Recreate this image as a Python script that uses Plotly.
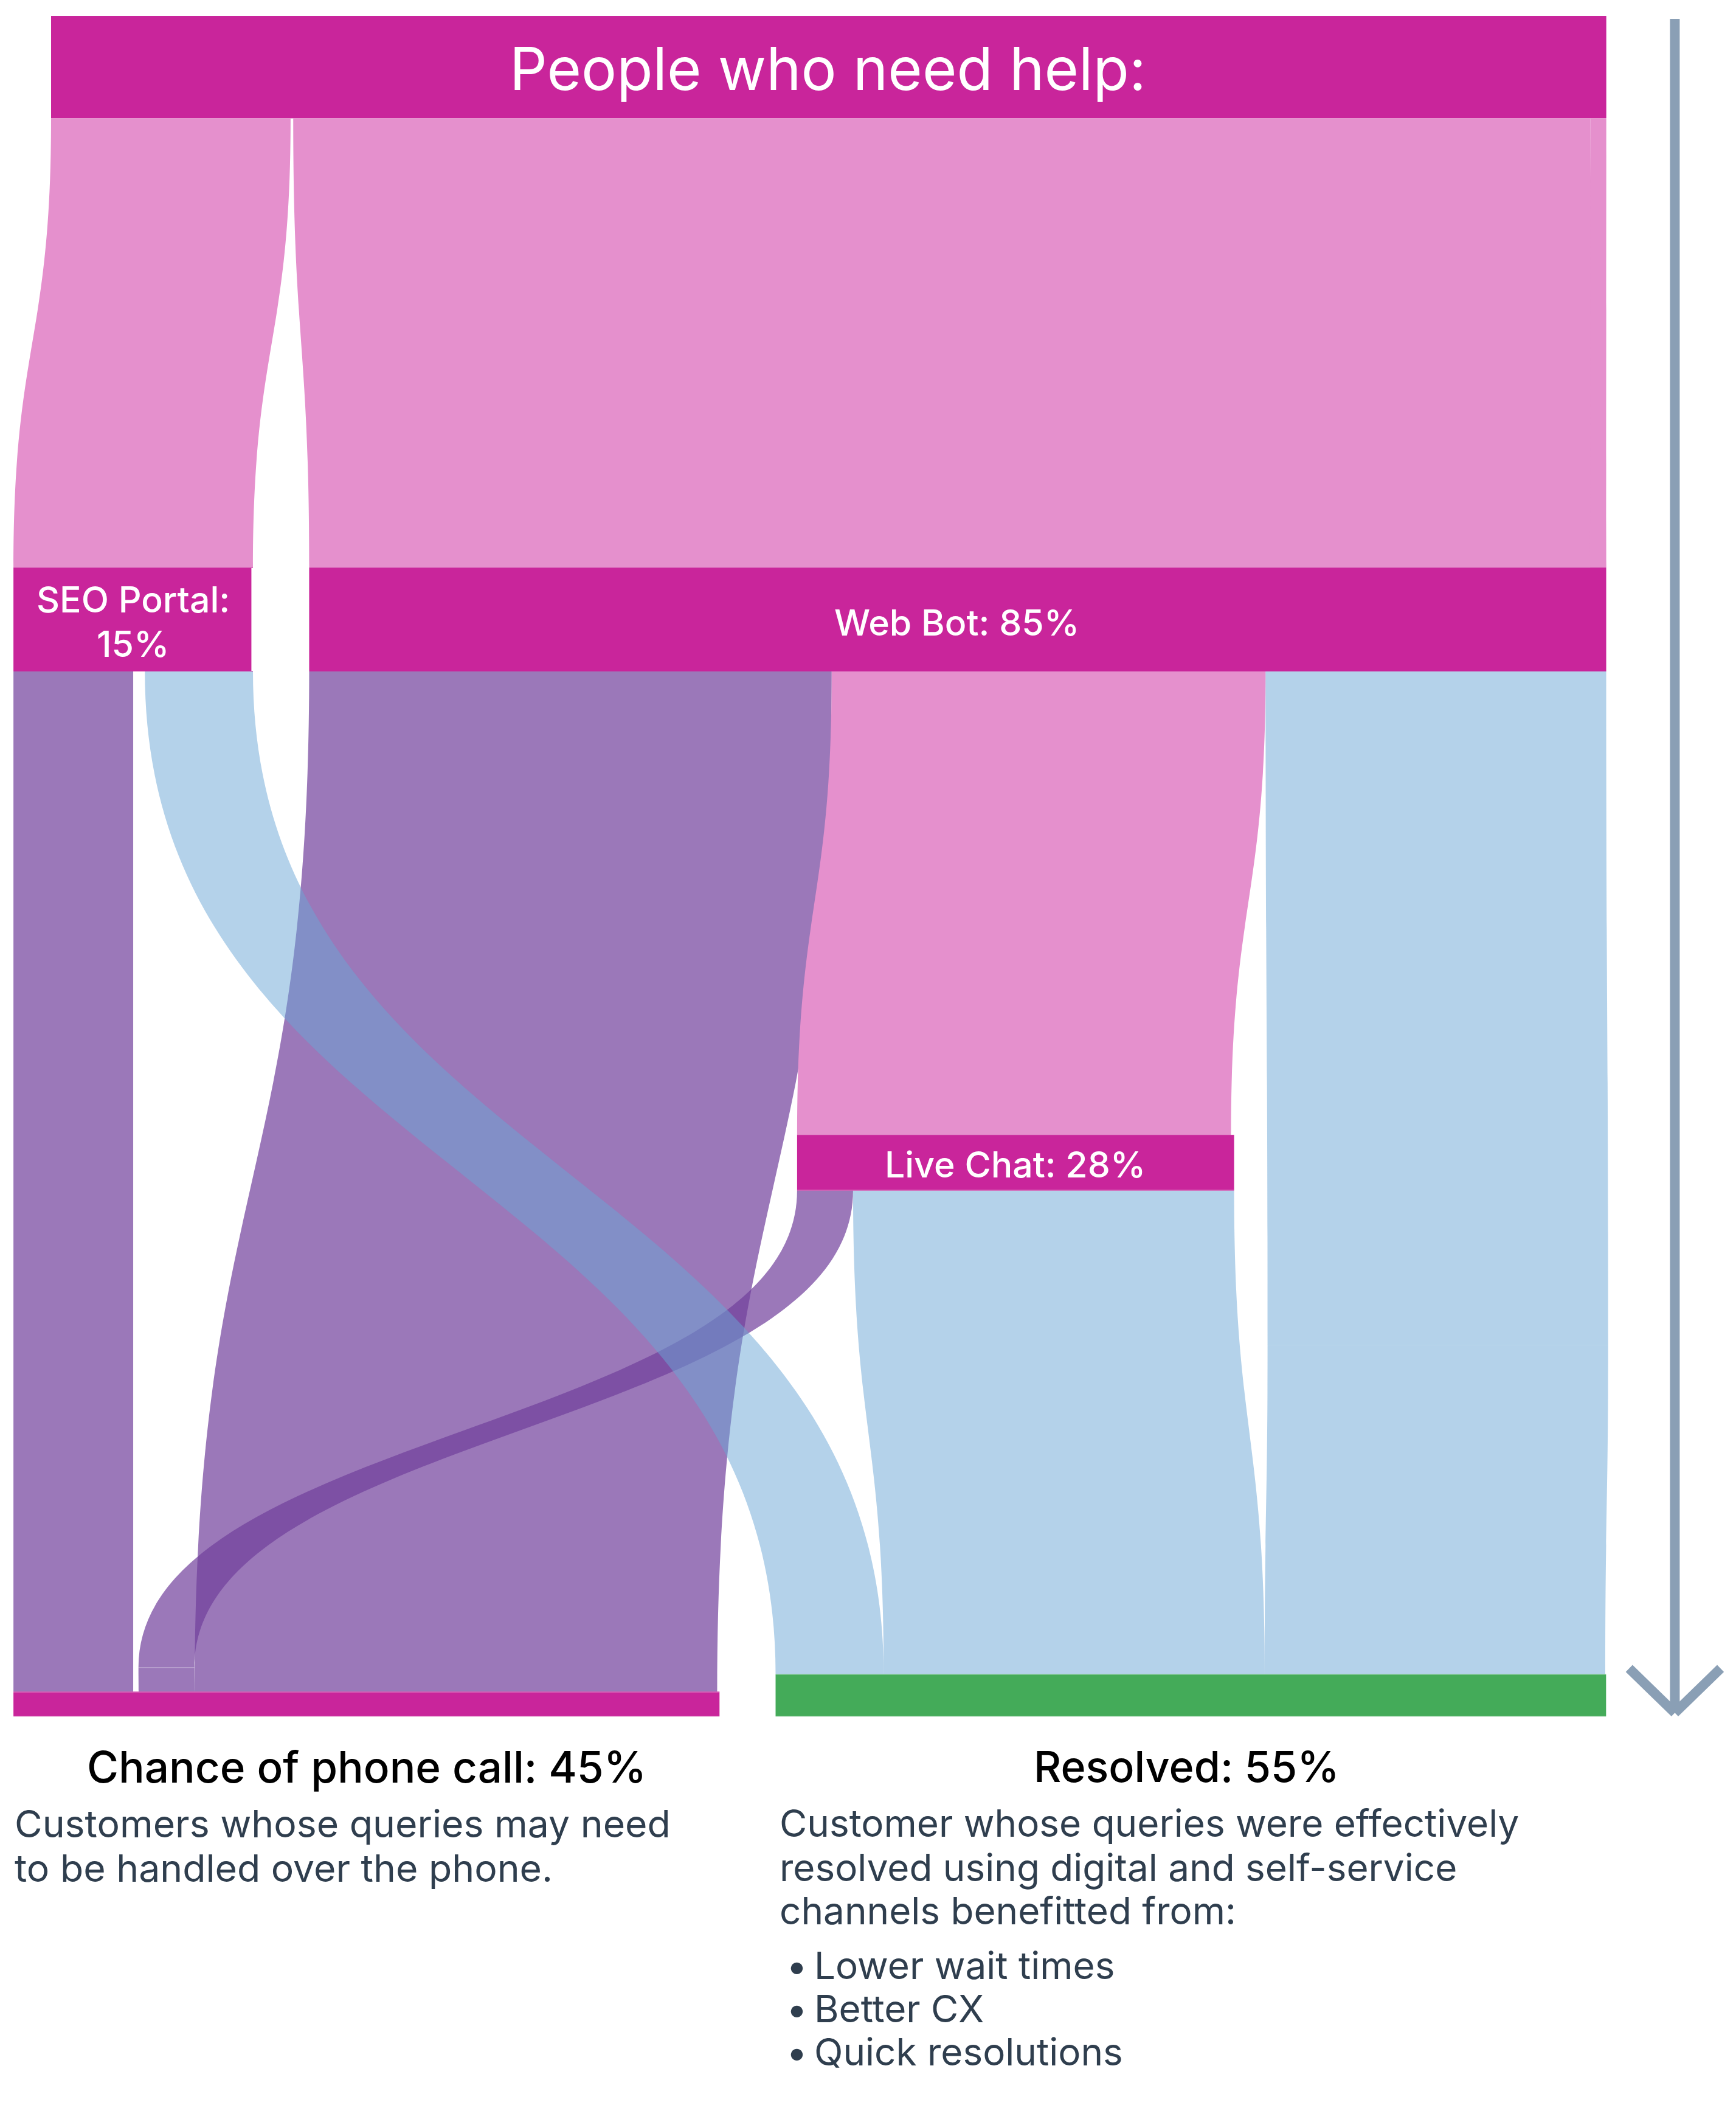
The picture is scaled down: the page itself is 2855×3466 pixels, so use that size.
import plotly.graph_objects as go

# ---- data (in percent of all people) ----
node_names = ["People who need help", "People (base)", "SEO Portal", "Web Bot", "spacer a",
              "SEO Portal (out)", "Web Bot (out)", "Live Chat", "Live Chat (out)", "Web Bot to Resolved",
              "Live Chat to phone", "Chance of phone call", "Phone (base)", "Resolved", "Resolved (base)",
              "spacer b", "spacer c", "Web Bot (edge)"]
link_source = [0, 1, 1, 1, 1, 2, 3, 6, 6, 8, 10, 5, 5, 15, 16, 11, 13, 7, 5, 6, 8, 9]
link_target = [1, 2, 4, 3, 17, 5, 6, 11, 7, 10, 11, 11, 15, 16, 11, 12, 14, 8, 13, 9, 13, 13]
link_value = [100, 15.4, 0.17, 83.4, 1.03, 15.3, 83.4, 33.6, 27.9, 3.6, 3.6, 7.7, 0.75, 0.35, 0.35, 45.4, 53.4, 28.1,
              6.95, 21.9, 24.5, 21.9]

MAGENTA, GREEN = "#C9259B", "#44AB59"
PURPLE, BLUE, PINK = "rgba(112,62,155,0.7)", "rgba(105,165,213,0.5)", "#E590CD"
NONE = "rgba(0,0,0,0)"
link_color = [MAGENTA, PINK, NONE, PINK, PINK, MAGENTA, MAGENTA, PURPLE, PINK, PURPLE, PURPLE, PURPLE, NONE,
              NONE, NONE, MAGENTA, GREEN, MAGENTA, BLUE, BLUE, BLUE, BLUE]
node_color = [MAGENTA, PINK, MAGENTA, MAGENTA, NONE, MAGENTA, MAGENTA, MAGENTA, MAGENTA, "#B4D2EA",
              "#9B78B9", MAGENTA, MAGENTA, GREEN, GREEN, NONE, NONE, NONE]

# ---- layout: depth (down) and left edge of each node, in picture units ----
node_depth = [12, 88, 422, 422, 422, 499, 499, 844, 885, 1000, 1240, 1258, 1276, 1245, 1276, 600, 1200, 422]
node_left = [38, 38, 10, 230, 200, 10, 230, 593, 593, 943, 103, 10, 10, 577, 577, 50, 60, 1183]

PAGE_W, PAGE_H = 2855, 3466
MARGIN = 8  # the page body's own margin
W, H = PAGE_W - 2 * MARGIN, PAGE_H - 2 * MARGIN
S = PAGE_W / 1291.5
KY = 11.57 * S  # pixels per percent
PAD = (W - 100 * KY) / 3

size = []
for i in range(len(node_names)):
    a = sum(v for s, v in zip(link_source, link_value) if s == i)
    b = sum(v for t, v in zip(link_target, link_value) if t == i)
    size.append(max(a, b) * KY)
# vertical sankey with fixed nodes: plotly.js scales x by domain width, and y (a node centre) by domain height
node_x = [(d * S - MARGIN) / (W - 1) for d in node_depth]
node_y = [(l * S - MARGIN + h / 2) / H for l, h in zip(node_left, size)]

fig = go.Figure(go.Sankey(
    orientation="v", arrangement="fixed", hoverinfo="skip",
    domain=dict(x=[0, 1], y=[0, 1]),
    node=dict(label=[""] * len(node_names), customdata=node_names, x=node_x, y=node_y, color=node_color,
              thickness=1, pad=PAD, line=dict(width=0), hoverinfo="skip"),
    link=dict(source=link_source, target=link_target, value=link_value, color=link_color, hoverinfo="skip"),
))

def px(x): return (x * S - MARGIN) / W
def py(y): return 1 - (y * S - MARGIN) / H

FONT = "Inter"
INK = "#2F3E4E"
texts = [
    ("People who need help:", 616, 51, 97, "white", "center", 400),
    ("SEO Portal:", 99, 446, 59, "white", "center", 500),
    ("15%", 99, 479, 59, "white", "center", 500),
    ("Web Bot: 85%", 712, 463, 59, "white", "center", 500),
    ("Live Chat: 28%", 755, 866, 59, "white", "center", 500),
    ("Chance of phone call: 45%", 273, 1314, 71, "black", "center", 500),
    ("Resolved: 55%", 883, 1314, 70, "black", "center", 500),
    ("Customers whose queries may need", 10, 1356, 62.5, INK, "left", 400),
    ("to be handled over the phone.", 10, 1389, 62.5, INK, "left", 400),
    ("Customer whose queries were effectively", 579, 1356, 62, INK, "left", 400),
    ("resolved using digital and self-service", 579, 1389, 62, INK, "left", 400),
    ("channels benefitted from:", 579, 1421, 62, INK, "left", 400),
    ("•", 593, 1462, 62, INK, "center", 400),
    ("Lower wait times", 605, 1462, 62, INK, "left", 400),
    ("•", 593, 1494, 62, INK, "center", 400),
    ("Better CX", 605, 1494, 62, INK, "left", 400),
    ("•", 593, 1526, 62, INK, "center", 400),
    ("Quick resolutions", 605, 1526, 62, INK, "left", 400),
]
for t, x, y, sz, col, anchor, wt in texts:
    fig.add_annotation(text=t, x=px(x), y=py(y), xref="paper", yref="paper", showarrow=False,
                       xanchor=anchor, yanchor="middle", font=dict(family=FONT, size=sz, color=col, weight=wt))

ARROW = "#8A9FB5"
line = dict(color=ARROW, width=16)
fig.add_shape(type="line", xref="paper", yref="paper", x0=px(1246), x1=px(1246), y0=py(14), y1=py(1272), line=line)
fig.add_shape(type="line", xref="paper", yref="paper", x0=px(1212), x1=px(1246), y0=py(1241), y1=py(1274), line=line)
fig.add_shape(type="line", xref="paper", yref="paper", x0=px(1280), x1=px(1246), y0=py(1241), y1=py(1274), line=line)

fig.update_layout(width=W, height=H, autosize=False, margin=dict(l=0, r=0, t=0, b=0),
                  paper_bgcolor="white", showlegend=False)
fig.write_html("out.html")
